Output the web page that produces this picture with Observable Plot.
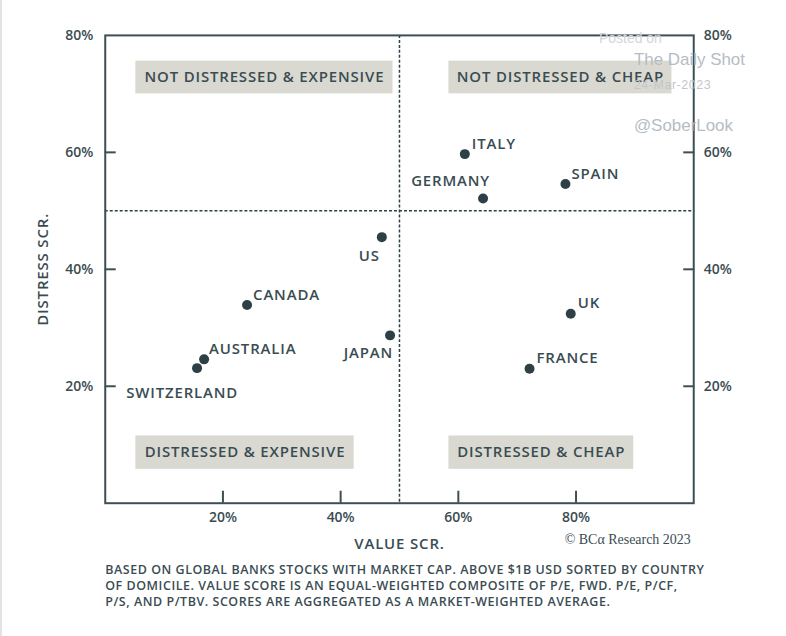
<!DOCTYPE html>
<html>
<head>
<meta charset="utf-8">
<script src="https://cdn.jsdelivr.net/npm/d3@7"></script>
<script src="https://cdn.jsdelivr.net/npm/@observablehq/plot@0.6"></script>
<style>
  html, body { margin: 0; padding: 0; background: #fff; }
  #chart { width: 786px; height: 636px; border-left: 2px solid #e3e3e3; box-sizing: border-box; overflow: hidden; }
  #chart g[font-size="15"] text { letter-spacing: 0.85px; }
  #chart g[font-size="12.5"] text { letter-spacing: 0.55px; }
</style>
</head>
<body>
<div id="chart"></div>
<script>
// ---- data ----
const countries = ["ITALY", "SPAIN", "GERMANY", "US", "CANADA", "JAPAN", "UK", "AUSTRALIA", "SWITZERLAND", "FRANCE"];
const valueScore = [0.611, 0.782, 0.642, 0.470, 0.241, 0.484, 0.791, 0.168, 0.156, 0.721];
const distressScore = [0.597, 0.546, 0.521, 0.455, 0.339, 0.287, 0.324, 0.246, 0.231, 0.230];

const yTicks = [0.2, 0.4, 0.6, 0.8];
const xTicks = [0.2, 0.4, 0.6, 0.8];
const quadrantLabels = ["NOT DISTRESSED & EXPENSIVE", "NOT DISTRESSED & CHEAP", "DISTRESSED & EXPENSIVE", "DISTRESSED & CHEAP"];
const xLabel = "VALUE SCR.";
const yLabel = "DISTRESS SCR.";
const captionLines = [
  "BASED ON GLOBAL BANKS STOCKS WITH MARKET CAP. ABOVE $1B USD SORTED BY COUNTRY",
  "OF DOMICILE. VALUE SCORE IS AN EQUAL-WEIGHTED COMPOSITE OF P/E, FWD. P/E, P/CF,",
  "P/S, AND P/TBV. SCORES ARE AGGREGATED AS A MARKET-WEIGHTED AVERAGE."
];
const credit = "© BCα Research 2023";
const watermark = ["Posted on", "The Daily Shot", "24-Mar-2023", "@SoberLook"];

// ---- layout / style config ----
const dark = "#2c4046";
const axisColor = "#3b4f55";
const textColor = "#3a4c52";
const boxFill = "#d9d9d1";
const font = "'Open Sans', sans-serif";
const wmFont = "'Liberation Sans', Arial, sans-serif";

// quadrant box extents (data units)
const quadrantLayout = [
  {x1: 0.052, x2: 0.489, y1: 0.700, y2: 0.756},
  {x1: 0.584, x2: 0.963, y1: 0.700, y2: 0.756},
  {x1: 0.052, x2: 0.423, y1: 0.058, y2: 0.115},
  {x1: 0.584, x2: 0.898, y1: 0.058, y2: 0.115}
];
// per-country label placement [anchor, dx, dy]
const labelPlacement = {
  ITALY: ["start", 7, -10],
  SPAIN: ["start", 6, -10],
  GERMANY: ["end", 7, -17],
  US: ["end", -2, 19],
  CANADA: ["start", 6, -10],
  JAPAN: ["end", 3, 18],
  UK: ["start", 7, -11],
  AUSTRALIA: ["start", 5, -10],
  SWITZERLAND: ["start", -71, 25],
  FRANCE: ["start", 7, -11]
};

const points = countries.map((c, i) => ({country: c, x: valueScore[i], y: distressScore[i]}));
const quads = quadrantLabels.map((t, i) => ({label: t, ...quadrantLayout[i]}));
const pct = d3.format(".0%");
const blank = () => "";
const id = d => d;

const labelMarks = points.map(p => {
  const [anchor, dx, dy] = labelPlacement[p.country];
  return Plot.text([p], {x: "x", y: "y", text: "country", textAnchor: anchor, dx, dy,
    fill: textColor, fontSize: 15, fontWeight: 600});
});

const chart = Plot.plot({
  width: 786,
  height: 636,
  marginLeft: 103,
  marginRight: 93,
  marginTop: 35,
  marginBottom: 132,
  x: {domain: [0, 1]},
  y: {domain: [0, 0.8]},
  style: {fontFamily: font, background: "white", overflow: "visible"},
  marks: [
    // quadrant boxes
    Plot.rect(quads, {x1: "x1", x2: "x2", y1: "y1", y2: "y2", fill: boxFill}),
    Plot.text(quads, {x: d => (d.x1 + d.x2) / 2, y: d => (d.y1 + d.y2) / 2, text: "label",
      fill: textColor, fontSize: 15, fontWeight: 600}),
    // dashed dividers
    Plot.ruleX([0.5], {stroke: dark, strokeWidth: 1.5, strokeDasharray: "3,2"}),
    Plot.ruleY([0.5], {stroke: dark, strokeWidth: 1.5, strokeDasharray: "3,2"}),
    // frame
    Plot.frame({stroke: axisColor, strokeWidth: 2}),
    // inward tick marks
    Plot.axisY({anchor: "left", ticks: [0.2, 0.4, 0.6], tickSize: 11, dx: 11, tickFormat: blank, label: null, stroke: axisColor, strokeWidth: 2}),
    Plot.axisY({anchor: "right", ticks: [0.2, 0.4, 0.6], tickSize: 11, dx: -11, tickFormat: blank, label: null, stroke: axisColor, strokeWidth: 2}),
    Plot.axisX({anchor: "bottom", ticks: xTicks, tickSize: 12, dy: -12, tickFormat: blank, label: null, stroke: axisColor, strokeWidth: 2}),
    // tick labels
    Plot.axisY({anchor: "left", ticks: yTicks, tickSize: 0, tickPadding: 12, tickFormat: pct, label: null, fill: textColor, fontSize: 14, fontWeight: 600}),
    Plot.axisY({anchor: "right", ticks: yTicks, tickSize: 0, tickPadding: 10, tickFormat: pct, label: null, fill: textColor, fontSize: 14, fontWeight: 600}),
    Plot.axisX({anchor: "bottom", ticks: xTicks, tickSize: 0, tickPadding: 9, tickFormat: pct, label: null, fill: textColor, fontSize: 14, fontWeight: 600}),
    // axis titles
    Plot.text([yLabel], {frameAnchor: "left", textAnchor: "middle", lineAnchor: "middle", dx: -62, rotate: -90, text: id, fill: textColor, fontSize: 15, fontWeight: 600}),
    Plot.text([xLabel], {frameAnchor: "bottom", textAnchor: "middle", lineAnchor: "middle", dy: 41, text: id, fill: textColor, fontSize: 15, fontWeight: 600}),
    Plot.text([credit], {frameAnchor: "bottom-right", textAnchor: "end", lineAnchor: "middle", dx: -3, dy: 36, text: id, fill: textColor, fontSize: 14, fontFamily: "'Liberation Serif', serif"}),
    Plot.text([captionLines.join("\n")], {frameAnchor: "bottom-left", textAnchor: "start", lineAnchor: "middle", dx: 0, dy: 82, lineHeight: 1.25, text: id, fill: textColor, fontSize: 12.5, fontWeight: 600}),
    // watermark
    Plot.text([watermark[0]], {frameAnchor: "top-right", textAnchor: "start", lineAnchor: "middle", dx: -95, dy: 3, text: id, fill: "#d3d6da", fontSize: 14, fontFamily: wmFont}),
    Plot.text([watermark[1]], {frameAnchor: "top-right", textAnchor: "start", lineAnchor: "middle", dx: -60, dy: 24, text: id, fill: "#b6bcc3", fontSize: 17, fontFamily: wmFont}),
    Plot.text([watermark[2]], {frameAnchor: "top-right", textAnchor: "start", lineAnchor: "middle", dx: -60, dy: 50, text: id, fill: "#c2c6cb", fontSize: 12.5, fontFamily: wmFont}),
    Plot.text([watermark[3]], {frameAnchor: "top-right", textAnchor: "start", lineAnchor: "middle", dx: -60, dy: 90, text: id, fill: "#b6bcc3", fontSize: 17, fontFamily: wmFont}),
    // points
    Plot.dot(points, {x: "x", y: "y", r: 5, fill: dark}),
    ...labelMarks
  ]
});
document.getElementById("chart").appendChild(chart);
</script>
</body>
</html>
